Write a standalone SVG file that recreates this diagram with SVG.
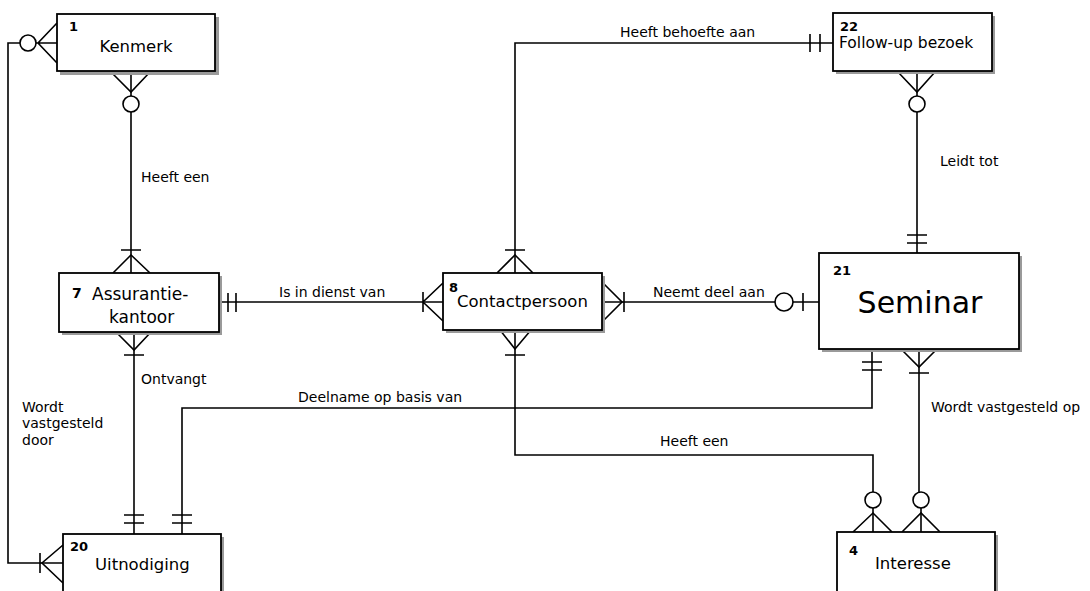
<svg xmlns="http://www.w3.org/2000/svg" width="1090" height="591" viewBox="0 0 1090 591">
<style>
.box{fill:#fff;stroke:#000;stroke-width:1.8}
.sh{fill:#9a9a9a}
.ln{fill:none;stroke:#000;stroke-width:1.6}
.cir{fill:#fff;stroke:#000;stroke-width:1.6}
.num{font-family:"DejaVu Sans",sans-serif;font-weight:bold;font-size:13px}
.name{font-family:"DejaVu Sans",sans-serif;font-size:16.5px}
.lbl{font-family:"DejaVu Sans",sans-serif;font-size:14px}
</style>
<rect width="1090" height="591" fill="#fff"/>
<g id="connectors">
  <path class="ln" d="M20,43 H8 V563 H63"/>
  <circle class="cir" cx="28" cy="43" r="8"/>
  <path class="ln" d="M57,23 L38,43 L57,63 M36,43 H57"/>
  <path class="ln" d="M63,545 L42,563 L63,583 M40,553 V573"/>
  <path class="ln" d="M131,72 V96 M131,112 V273"/>
  <path class="ln" d="M111,72 L131,92 L150,72"/>
  <circle class="cir" cx="131" cy="104" r="8"/>
  <path class="ln" d="M121,250 H141 M113,273 L131,255 L150,273"/>
  <path class="ln" d="M134,332 V534"/>
  <path class="ln" d="M116,332 L134,350 L151,332 M124,355 H144"/>
  <path class="ln" d="M124,515 H144 M124,523 H144"/>
  <path class="ln" d="M219,302 H443"/>
  <path class="ln" d="M228,293 V312 M236,293 V312"/>
  <path class="ln" d="M443,283 L423,302 L443,321 M423,292 V312"/>
  <path class="ln" d="M515,273 V43 H833"/>
  <path class="ln" d="M497,273 L515,255 L533,273 M505,250 H525"/>
  <path class="ln" d="M810,34 V52 M820,34 V52"/>
  <path class="ln" d="M602,302 H775 M793,302 H819"/>
  <path class="ln" d="M602,282 L622,302 L602,322 M624,292 V312"/>
  <circle class="cir" cx="784" cy="302" r="9"/>
  <path class="ln" d="M803,293 V311"/>
  <path class="ln" d="M515,330 V455 H873 V492 M873,508 V532"/>
  <path class="ln" d="M500,330 L515,349 L531,330 M505,355 H525"/>
  <circle class="cir" cx="873" cy="500" r="8"/>
  <path class="ln" d="M853,532 L873,513 L892,532"/>
  <path class="ln" d="M917,72 V96 M917,112 V253"/>
  <path class="ln" d="M898,72 L917,92 L935,72"/>
  <circle class="cir" cx="917" cy="104" r="8"/>
  <path class="ln" d="M907,235 H927 M907,243 H927"/>
  <path class="ln" d="M872,349 V408 H182 V534"/>
  <path class="ln" d="M862,362 H882 M862,370 H882"/>
  <path class="ln" d="M172,515 H192 M172,523 H192"/>
  <path class="ln" d="M919,349 V492 M921,508 V532"/>
  <path class="ln" d="M901,349 L919,367 L937,349 M909,373 H929"/>
  <circle class="cir" cx="921" cy="500" r="8"/>
  <path class="ln" d="M902,532 L921,513 L940,532"/>
  <text class="lbl" x="141" y="182">Heeft een</text>
  <text class="lbl" x="279" y="297">Is in dienst van</text>
  <text class="lbl" x="653" y="297">Neemt deel aan</text>
  <text class="lbl" x="620" y="37">Heeft behoefte aan</text>
  <text class="lbl" x="940" y="166">Leidt tot</text>
  <text class="lbl" x="141" y="384">Ontvangt</text>
  <text class="lbl" x="298" y="402">Deelname op basis van</text>
  <text class="lbl" x="660" y="446">Heeft een</text>
  <text class="lbl" x="931" y="412">Wordt vastgesteld op</text>
  <text class="lbl" x="22" y="412">Wordt</text>
  <text class="lbl" x="22" y="428">vastgesteld</text>
  <text class="lbl" x="22" y="445">door</text>
</g>
<g id="kenmerk">
  <rect class="sh" x="60" y="17" width="159" height="58"/>
  <rect class="box" x="57" y="14" width="158" height="57"/>
  <text class="num" x="69" y="31">1</text>
  <text class="name" x="136" y="52" text-anchor="middle">Kenmerk</text>
</g>
<g id="assurantiekantoor">
  <rect class="sh" x="62" y="276" width="160" height="59"/>
  <rect class="box" x="59" y="273" width="160" height="59"/>
  <text class="num" x="72" y="298" style="font-size:14px">7</text>
  <text class="name" x="92" y="300" style="font-size:17px">Assurantie-</text>
  <text class="name" x="109" y="323" style="font-size:17px">kantoor</text>
</g>
<g id="contactpersoon">
  <rect class="sh" x="446" y="276" width="159" height="57"/>
  <rect class="box" x="443" y="273" width="159" height="57"/>
  <text class="num" x="449" y="292">8</text>
  <text class="name" x="457" y="307">Contactpersoon</text>
</g>
<g id="followup">
  <rect class="sh" x="836" y="16" width="159" height="58"/>
  <rect class="box" x="833" y="13" width="159" height="58"/>
  <text class="num" x="840" y="31">22</text>
  <text class="name" x="839" y="48" style="font-size:15.5px">Follow-up bezoek</text>
</g>
<g id="seminar">
  <rect class="sh" x="822" y="256" width="200" height="96"/>
  <rect class="box" x="819" y="253" width="200" height="96"/>
  <text class="num" x="833" y="275">21</text>
  <text class="name" x="920" y="313" text-anchor="middle" style="font-size:30px">Seminar</text>
</g>
<g id="uitnodiging">
  <rect class="sh" x="66" y="537" width="158" height="60"/>
  <rect class="box" x="63" y="534" width="158" height="60"/>
  <text class="num" x="70" y="551">20</text>
  <text class="name" x="95" y="570">Uitnodiging</text>
</g>
<g id="interesse">
  <rect class="sh" x="840" y="535" width="158" height="60"/>
  <rect class="box" x="837" y="532" width="158" height="62"/>
  <text class="num" x="849" y="555">4</text>
  <text class="name" x="875" y="569">Interesse</text>
</g>
</svg>
